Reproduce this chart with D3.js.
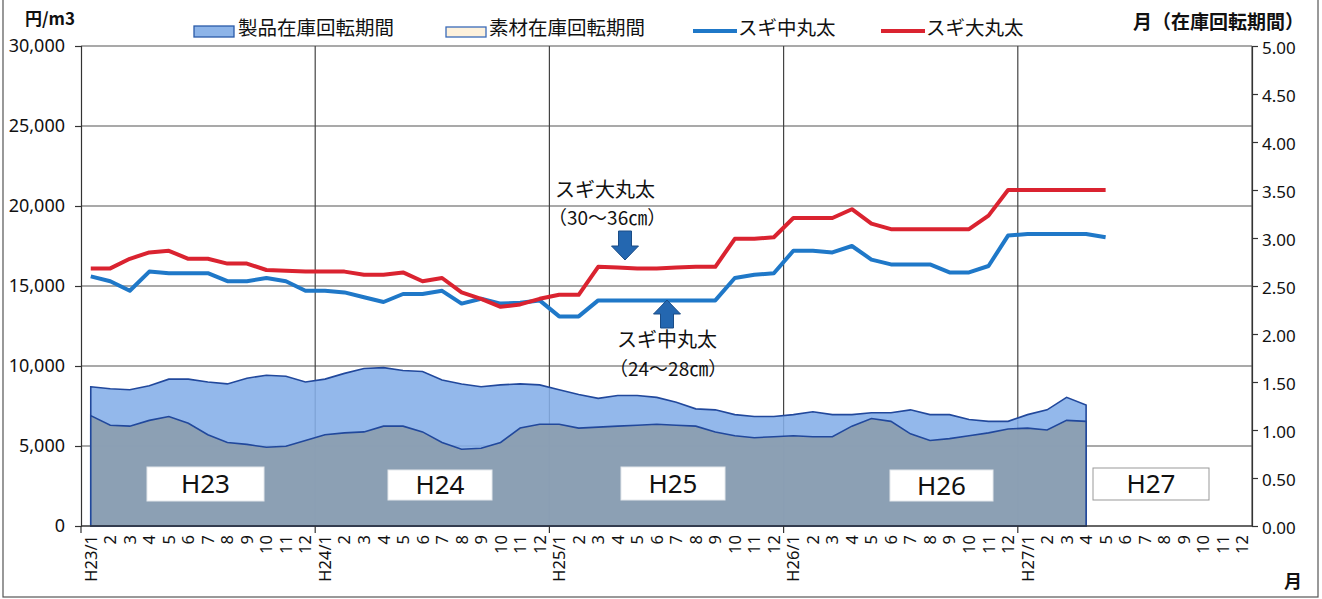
<!DOCTYPE html>
<html>
<head>
<meta charset="utf-8">
<script src="https://d3js.org/d3.v7.min.js"></script>
<style>
body { margin: 0; background: #fff; }
text { font-family: "Noto Sans", "Noto Sans CJK JP", sans-serif; fill: #111; }
.jp { font-family: "Noto Sans CJK JP", sans-serif; }
</style>
</head>
<body>
<svg width="1322" height="599"></svg>
<script>
// data
var years = ["H23", "H24", "H25", "H26", "H27"];
var monthNums = [1, 2, 3, 4, 5, 6, 7, 8, 9, 10, 11, 12];

// 在庫回転期間 (months), H23/1 - H27/4
var productTurnover = [
  1.45, 1.43, 1.42, 1.46, 1.53, 1.53, 1.50, 1.48, 1.54, 1.57, 1.56, 1.50,
  1.53, 1.59, 1.64, 1.65, 1.62, 1.61, 1.52, 1.48, 1.45, 1.47, 1.48, 1.47,
  1.42, 1.37, 1.33, 1.36, 1.36, 1.34, 1.29, 1.22, 1.21, 1.16, 1.14, 1.14,
  1.16, 1.19, 1.16, 1.16, 1.18, 1.18, 1.21, 1.16, 1.16, 1.11, 1.09, 1.09,
  1.16, 1.21, 1.34, 1.26];
var rawTurnover = [
  1.15, 1.05, 1.04, 1.10, 1.14, 1.07, 0.95, 0.87, 0.85, 0.82, 0.83, 0.89,
  0.95, 0.97, 0.98, 1.04, 1.04, 0.98, 0.87, 0.80, 0.81, 0.87, 1.02, 1.06,
  1.06, 1.02, 1.03, 1.04, 1.05, 1.06, 1.05, 1.04, 0.98, 0.94, 0.92, 0.93,
  0.94, 0.93, 0.93, 1.04, 1.12, 1.09, 0.96, 0.89, 0.91, 0.94, 0.97, 1.01,
  1.02, 1.00, 1.10, 1.09];

// 円/m3, H23/1 - H27/5
var sugiMid = [
  15600, 15300, 14700, 15900, 15800, 15800, 15800, 15300, 15300, 15500, 15300, 14700,
  14700, 14600, 14300, 14000, 14500, 14500, 14700, 13900, 14200, 13900, 13950, 14100,
  13100, 13100, 14100, 14100, 14100, 14100, 14100, 14100, 14100, 15500, 15700, 15800,
  17200, 17200, 17100, 17500, 16650, 16350, 16350, 16350, 15850, 15850, 16250, 18150,
  18250, 18250, 18250, 18250, 18050];
var sugiLarge = [
  16100, 16100, 16700, 17100, 17200, 16700, 16700, 16400, 16400, 16000, 15950, 15900,
  15900, 15900, 15700, 15700, 15850, 15300, 15500, 14600, 14200, 13700, 13850, 14200,
  14450, 14450, 16200, 16150, 16100, 16100, 16150, 16200, 16200, 17950, 17950, 18050,
  19250, 19250, 19250, 19800, 18900, 18550, 18550, 18550, 18550, 18550, 19400, 21000,
  21000, 21000, 21000, 21000, 21000];

var priceTicks = [0, 5000, 10000, 15000, 20000, 25000, 30000];
var turnTicks = [0, 0.5, 1, 1.5, 2, 2.5, 3, 3.5, 4, 4.5, 5];

var labels = [];
years.forEach(function(y) {
  monthNums.forEach(function(m) { labels.push(m == 1 ? y + "/1" : String(m)); });
});

var L = 81, R = 1252, T = 46, B = 526;
var svg = d3.select("svg");

svg.append("rect").attr("x", 3).attr("y", -5).attr("width", 1315).attr("height", 602)
  .attr("fill", "#fff").attr("stroke", "#555").attr("stroke-width", 1.2);

var x = d3.scaleBand().domain(d3.range(labels.length)).range([L, R]);
function cx(i) { return x(i) + x.bandwidth() / 2; }
var yL = d3.scaleLinear().domain([0, 30000]).range([B, T]);
var yR = d3.scaleLinear().domain([0, 5]).range([B, T]);

// grid
svg.append("g").selectAll("line").data(priceTicks.slice(1)).enter().append("line")
  .attr("x1", L).attr("x2", R).attr("y1", function(d) { return yL(d); }).attr("y2", function(d) { return yL(d); })
  .attr("stroke", "#555").attr("stroke-width", 1.2);
var yearStarts = years.map(function(y, k) { return k * 12; });
svg.append("g").selectAll("line").data(yearStarts.slice(1)).enter().append("line")
  .attr("x1", function(d) { return x(d); }).attr("x2", function(d) { return x(d); })
  .attr("y1", T).attr("y2", B).attr("stroke", "#444").attr("stroke-width", 1.2);
svg.append("line").attr("x1", R).attr("x2", R).attr("y1", T).attr("y2", B)
  .attr("stroke", "#555").attr("stroke-width", 1.2);

// areas
var area = d3.area().x(function(d, i) { return cx(i); }).y0(yR(0)).y1(function(d) { return yR(d); });
svg.append("path").datum(productTurnover).attr("d", area)
  .attr("fill", "#84aee8").attr("fill-opacity", 0.88).attr("stroke", "#21489c").attr("stroke-width", 1.6);
svg.append("path").datum(rawTurnover).attr("d", area)
  .attr("fill", "#8b9eb1").attr("fill-opacity", 0.95).attr("stroke", "#21489c").attr("stroke-width", 1.6);

// price lines
var line = d3.line().x(function(d, i) { return cx(i); }).y(function(d) { return yL(d); });
svg.append("path").datum(sugiMid).attr("d", line).attr("fill", "none")
  .attr("stroke", "#1f78c8").attr("stroke-width", 4).attr("stroke-linejoin", "round");
svg.append("path").datum(sugiLarge).attr("d", line).attr("fill", "none")
  .attr("stroke", "#da2330").attr("stroke-width", 4).attr("stroke-linejoin", "round");

// axes
var ax = svg.append("g").attr("transform", "translate(" + L + ",0)")
  .call(d3.axisLeft(yL).tickValues(priceTicks).tickFormat(d3.format(",")).tickSize(6).tickPadding(10));
ax.selectAll("text").style("font-size", "18px");
ax.selectAll("line, path").attr("stroke", "#333").attr("stroke-width", 1.2);

var ar = svg.append("g").attr("transform", "translate(" + R + ",0)")
  .call(d3.axisRight(yR).tickValues(turnTicks).tickFormat(d3.format(".2f")).tickSize(6).tickPadding(4));
ar.selectAll("text").style("font-size", "17px").attr("dy", "0.45em");
ar.selectAll("line, path").attr("stroke", "#333").attr("stroke-width", 1.2);

svg.append("line").attr("x1", L).attr("x2", R).attr("y1", B).attr("y2", B)
  .attr("stroke", "#333").attr("stroke-width", 1.4);
svg.append("g").selectAll("line").data(yearStarts).enter().append("line")
  .attr("x1", function(d) { return x(d); }).attr("x2", function(d) { return x(d); })
  .attr("y1", B).attr("y2", B + 7).attr("stroke", "#333").attr("stroke-width", 1.2);

svg.append("g").selectAll("text").data(labels).enter().append("text")
  .attr("transform", function(d, i) { return "translate(" + (cx(i) + 6) + "," + (B + 9) + ") rotate(-90)"; })
  .attr("text-anchor", "end").style("font-size", "16.5px").text(function(d) { return d; });

// axis titles
svg.append("text").attr("class", "jp").attr("x", 25).attr("y", 25)
  .style("font-size", "17px").style("font-weight", "bold").text("円/m3");
svg.append("text").attr("class", "jp").attr("x", 1133).attr("y", 29)
  .style("font-size", "19px").style("font-weight", "bold").text("月（在庫回転期間）");
svg.append("text").attr("class", "jp").attr("x", 1284).attr("y", 588)
  .style("font-size", "18px").style("font-weight", "bold").text("月");

// legend
var lg = svg.append("g");
lg.append("rect").attr("x", 194).attr("y", 26).attr("width", 40).attr("height", 11)
  .attr("fill", "#8db4e8").attr("stroke", "#2a5aa8").attr("stroke-width", 1.3);
lg.append("text").attr("class", "jp").attr("x", 238).attr("y", 35).style("font-size", "19.5px").text("製品在庫回転期間");
lg.append("rect").attr("x", 446).attr("y", 27).attr("width", 40).attr("height", 10)
  .attr("fill", "#fdf1dc").attr("stroke", "#3a6ab8").attr("stroke-width", 1.3);
lg.append("text").attr("class", "jp").attr("x", 489).attr("y", 35).style("font-size", "19.5px").text("素材在庫回転期間");
lg.append("line").attr("x1", 693).attr("x2", 737).attr("y1", 31).attr("y2", 31)
  .attr("stroke", "#1f78c8").attr("stroke-width", 4);
lg.append("text").attr("class", "jp").attr("x", 738).attr("y", 35).style("font-size", "19.5px").text("スギ中丸太");
lg.append("line").attr("x1", 881).attr("x2", 925).attr("y1", 31).attr("y2", 31)
  .attr("stroke", "#da2330").attr("stroke-width", 4);
lg.append("text").attr("class", "jp").attr("x", 926).attr("y", 35).style("font-size", "19.5px").text("スギ大丸太");

// year boxes
var yearBoxes = [
  { t: "H23", x: 147, y: 467, w: 117, h: 34, s: false },
  { t: "H24", x: 388, y: 470, w: 104, h: 30, s: false },
  { t: "H25", x: 621, y: 467, w: 104, h: 33, s: false },
  { t: "H26", x: 890, y: 470, w: 103, h: 31, s: false },
  { t: "H27", x: 1093, y: 468, w: 116, h: 32, s: true }
];
var yb = svg.append("g").selectAll("g").data(yearBoxes).enter().append("g");
yb.append("rect").attr("x", function(d) { return d.x; }).attr("y", function(d) { return d.y; })
  .attr("width", function(d) { return d.w; }).attr("height", function(d) { return d.h; })
  .attr("fill", "#fff").attr("stroke", function(d) { return d.s ? "#999" : "#e4e8ec"; }).attr("stroke-width", 1);
yb.append("text").attr("x", function(d) { return d.x + d.w / 2; }).attr("y", function(d) { return d.y + d.h / 2 + 9; })
  .attr("text-anchor", "middle").style("font-size", "26px").text(function(d) { return d.t; });

// annotations
function arrow(cxp, y0, y1) {
  var dir = y1 > y0 ? 1 : -1, head = 14, sw = 6.5, hw = 13.5;
  var yh = y1 - dir * head;
  return "M" + (cxp - sw) + "," + y0 + "L" + (cxp + sw) + "," + y0 + "L" + (cxp + sw) + "," + yh +
    "L" + (cxp + hw) + "," + yh + "L" + cxp + "," + y1 + "L" + (cxp - hw) + "," + yh +
    "L" + (cxp - sw) + "," + yh + "Z";
}
svg.append("path").attr("d", arrow(625, 231, 260)).attr("fill", "#2467b0").attr("stroke", "#1a4c86").attr("stroke-width", 1);
svg.append("path").attr("d", arrow(667, 328, 300)).attr("fill", "#2467b0").attr("stroke", "#1a4c86").attr("stroke-width", 1);

svg.append("text").attr("class", "jp").attr("x", 555).attr("y", 197).style("font-size", "20px").text("スギ大丸太");
svg.append("text").attr("class", "jp").attr("x", 548).attr("y", 225).style("font-size", "19px").text("（30～36㎝）");
svg.append("text").attr("class", "jp").attr("x", 617).attr("y", 347).style("font-size", "20px").text("スギ中丸太");
svg.append("text").attr("class", "jp").attr("x", 609).attr("y", 376).style("font-size", "19px").text("（24～28㎝）");
</script>
</body>
</html>
